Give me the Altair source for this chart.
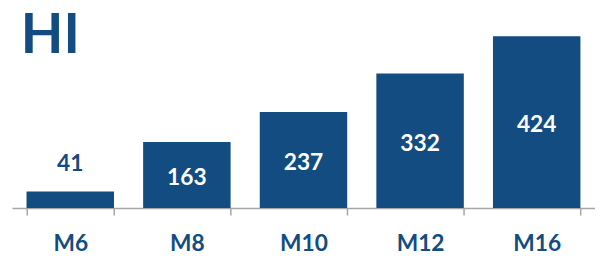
import altair as alt
import pandas as pd

categories = ["M6", "M8", "M10", "M12", "M16"]
values = [41, 163, 237, 332, 424]
title_text = ["HI"]

BLUE = "#124C80"
FONT = "Lato"

df = pd.DataFrame({"cat": categories, "v": values})

base = alt.Chart(df).encode(
    x=alt.X("cat:N", sort=categories,
            scale=alt.Scale(paddingInner=0.25),
            axis=alt.Axis(title=None, labelAngle=0, tickBand="extent",
                          domainColor="#A6A6A6", tickColor="#A6A6A6",
                          domainWidth=1.5, tickWidth=1.5, tickSize=7,
                          labelFont=FONT, labelFontSize=23, labelFontWeight="bold",
                          labelColor=BLUE, labelPadding=18, grid=False))
)

bars = base.mark_bar(color=BLUE).encode(
    y=alt.Y("v:Q", scale=alt.Scale(domain=[0, 490]), axis=None)
)

inside = base.transform_filter("datum.v >= 100").transform_calculate(
    mid="datum.v / 2"
).mark_text(color="white", font=FONT, fontSize=23, fontWeight="bold",
            baseline="middle", dy=3).encode(
    y=alt.Y("mid:Q", scale=alt.Scale(domain=[0, 490])),
    text="v:Q",
)

above = base.transform_filter("datum.v < 100").mark_text(
    color=BLUE, font=FONT, fontSize=23, fontWeight="bold",
    baseline="bottom", dy=-16).encode(
    y=alt.Y("v:Q", scale=alt.Scale(domain=[0, 490])),
    text="v:Q",
)

title = alt.Chart(pd.DataFrame({"t": title_text})).mark_text(
    color=BLUE, font=FONT, fontSize=56, fontWeight="bold",
    align="left", baseline="alphabetic").encode(
    x=alt.value(9), y=alt.value(44), text="t:N")

chart = alt.layer(bars, inside, above, title).properties(
    width=590, height=201,
    autosize=alt.AutoSizeParams(type="none"),
    padding={"left": 4, "top": 0, "right": 0, "bottom": 47},
).configure_view(stroke=None)

chart.save("out.html", embed_options={"renderer": "svg", "actions": False})
